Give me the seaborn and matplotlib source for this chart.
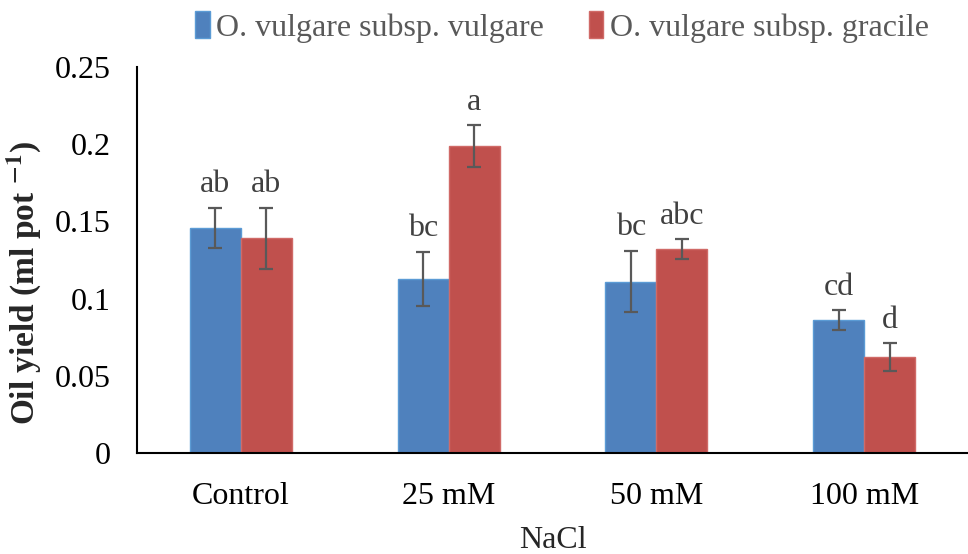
import matplotlib
matplotlib.use("Agg")
import matplotlib.pyplot as plt
import seaborn as sns
import pandas as pd
from matplotlib.ticker import FuncFormatter
from matplotlib.patches import Patch

categories = ["Control", "25 mM", "50 mM", "100 mM"]
series_names = ["O. vulgare subsp. vulgare", "O. vulgare subsp. gracile"]
vulgare = [0.146, 0.113, 0.111, 0.086]
gracile = [0.139, 0.199, 0.132, 0.062]
vulgare_err = [0.013, 0.0175, 0.020, 0.0065]
gracile_err = [0.020, 0.0135, 0.0065, 0.009]
vulgare_letters = ["ab", "bc", "bc", "cd"]
gracile_letters = ["ab", "a", "abc", "d"]
yticks = [0, 0.05, 0.1, 0.15, 0.2, 0.25]

sns.set_theme(style="white")
plt.rcParams["font.family"] = ["Liberation Serif", "DejaVu Serif"]
plt.rcParams["mathtext.fontset"] = "stix"

df = pd.DataFrame({
    "cat": categories * 2,
    "series": [series_names[0]] * 4 + [series_names[1]] * 4,
    "val": vulgare + gracile,
})
colors = ["#4F81BD", "#C0504D"]
edges = ["#5B9BD5", "#D06A67"]

fig = plt.figure(figsize=(9.68, 5.54), dpi=100)
ax = fig.add_axes([137 / 968, 101 / 554, (968 - 137) / 968, (453 - 67) / 554])
sns.barplot(data=df, x="cat", y="val", hue="series", palette=colors,
            width=0.49, ax=ax, legend=False, errorbar=None, saturation=1)

errs = [vulgare_err, gracile_err]
vals = [vulgare, gracile]
letters = [vulgare_letters, gracile_letters]
bar_containers = list(ax.containers)
for k, cont in enumerate(bar_containers):
    for i, bar in enumerate(cont.patches):
        bar.set_edgecolor(edges[k])
        bar.set_linewidth(1.0)
        xc = bar.get_x() + bar.get_width() / 2
        ax.errorbar(xc, vals[k][i], yerr=errs[k][i], color="#595959",
                    capsize=5, elinewidth=1.6, capthick=1.6, fmt="none", zorder=5)
        ax.annotate(letters[k][i], (xc, vals[k][i] + errs[k][i]),
                    xytext=(0, 6), textcoords="offset points", ha="center",
                    va="bottom", fontsize=23, color="#404040")

ax.set_xlim(-0.5, 3.5)
ax.set_ylim(0, 0.25)
ax.set_yticks(yticks)
ax.yaxis.set_major_formatter(FuncFormatter(lambda v, p: "0" if v == 0 else ("%g" % v)))
ax.tick_params(axis="both", length=0, labelsize=23, colors="black")
ax.tick_params(axis="y", pad=19)
ax.tick_params(axis="x", pad=21)
for s in ["top", "right"]:
    ax.spines[s].set_visible(False)
for s in ["left", "bottom"]:
    ax.spines[s].set_color("black")
    ax.spines[s].set_linewidth(1.5)
ax.set_xlabel("NaCl", fontsize=23, labelpad=11)
ax.set_ylabel(r"Oil yield (ml pot $^{\mathbf{-1}}$)", fontsize=24, fontweight="bold")
ax.yaxis.set_label_coords(-94 / 831, 0.44)

handles = [Patch(facecolor=colors[0], edgecolor=edges[0]), Patch(facecolor=colors[1], edgecolor=edges[1])]
leg = fig.legend(handles, series_names, loc="center", bbox_to_anchor=(562 / 968, 1 - 27 / 554),
                 ncol=2, frameon=False, fontsize=23, handlelength=0.45, handleheight=0.9,
                 handletextpad=0.2, columnspacing=1.4)
for t in leg.get_texts():
    t.set_color("#595959")

fig.savefig("out.png", dpi=100)
